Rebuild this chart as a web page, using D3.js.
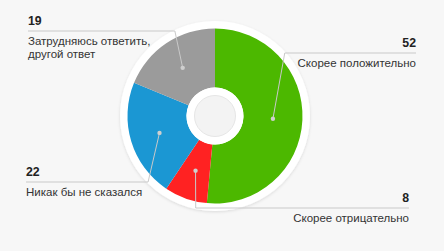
<!DOCTYPE html>
<html>
<head>
<meta charset="utf-8">
<script src="https://cdn.jsdelivr.net/npm/d3@7"></script>
<style>
  html, body { margin: 0; padding: 0; background: #f7f7f7; }
  svg { display: block; }
  text { font-family: "Liberation Sans", Arial, sans-serif; }
</style>
</head>
<body>
<svg id="chart" width="444" height="251"></svg>
<script>
// Survey answers, clockwise from 12 o'clock
const categories = ["Скорее положительно", "Скорее отрицательно", "Никак бы не сказался", "Затрудняюсь ответить, другой ответ"];
const values = [52, 8, 22, 19];
const labelLines = [["Скорее положительно"], ["Скорее отрицательно"], ["Никак бы не сказался"], ["Затрудняюсь ответить,", "другой ответ"]];

const colors = ["#4cb800", "#ff2222", "#1b97d3", "#9b9b9b"];

// Label placement: side of the chart, y of the rule under the number, outer x of the text block
const labelLayout = [
  { side: "right", ruleY: 53, edgeX: 416 },
  { side: "right", ruleY: 208, edgeX: 409 },
  { side: "left",  ruleY: 182, edgeX: 26 },
  { side: "left",  ruleY: 31,  edgeX: 28 }
];

const cx = 215, cy = 116;
const innerR = 28.5, outerR = 87.5, ringR = 95, holeR = 20.5, elbowR = 94;
const fontSize = 11.5, lineGap = 13.2;

const svg = d3.select("#chart");
const defs = svg.append("defs");
const shadow = defs.append("filter").attr("id", "ringShadow")
  .attr("x", "-20%").attr("y", "-20%").attr("width", "140%").attr("height", "140%");
shadow.append("feDropShadow").attr("dx", 0).attr("dy", 1).attr("stdDeviation", 1.5)
  .attr("flood-color", "#000").attr("flood-opacity", 0.12);

const g = svg.append("g").attr("transform", `translate(${cx},${cy})`);

// white plate behind the donut
g.append("circle").attr("r", ringR).attr("fill", "#ffffff").attr("filter", "url(#ringShadow)");

const pie = d3.pie().sort(null).value(d => d)(values);
const arc = d3.arc().innerRadius(innerR).outerRadius(outerR);

g.selectAll("path.slice").data(pie).join("path")
  .attr("class", "slice")
  .attr("d", arc)
  .attr("fill", (d, i) => colors[i]);

// white ring + inner disc in the hole
g.append("circle").attr("r", innerR).attr("fill", "#ffffff");
g.append("circle").attr("r", holeR).attr("fill", "#f3f3f3").attr("stroke", "#e6e6e6").attr("stroke-width", 1);

// leader lines and labels
const lines = svg.append("g");
const labels = svg.append("g");

pie.forEach((d, i) => {
  const L = labelLayout[i];
  const [px, py] = arc.centroid(d);
  const dot = [cx + px, cy + py];
  const dy = L.ruleY - cy;
  const dx = Math.sqrt(Math.max(0, elbowR * elbowR - dy * dy));
  const sign = px >= 0 ? 1 : -1;
  const elbow = [cx + sign * dx, L.ruleY];
  const end = [L.edgeX, L.ruleY];

  lines.append("polyline")
    .attr("points", [dot, elbow, end].map(p => p.join(",")).join(" "))
    .attr("fill", "none")
    .attr("stroke", "#c9c9c9")
    .attr("stroke-width", 1);
  lines.append("circle")
    .attr("cx", dot[0]).attr("cy", dot[1]).attr("r", 2.2)
    .attr("fill", "#cfcfcf");

  const anchor = L.side === "right" ? "end" : "start";
  labels.append("text")
    .attr("x", L.edgeX).attr("y", L.ruleY - 6.5)
    .attr("text-anchor", anchor)
    .attr("font-size", fontSize + 0.8).attr("font-weight", "bold").attr("fill", "#222")
    .text(values[i]);
  labelLines[i].forEach((t, k) => {
    labels.append("text")
      .attr("x", L.edgeX).attr("y", L.ruleY + 13.5 + k * lineGap)
      .attr("text-anchor", anchor)
      .attr("font-size", fontSize).attr("fill", "#333")
      .text(t);
  });
});
</script>
</body>
</html>
